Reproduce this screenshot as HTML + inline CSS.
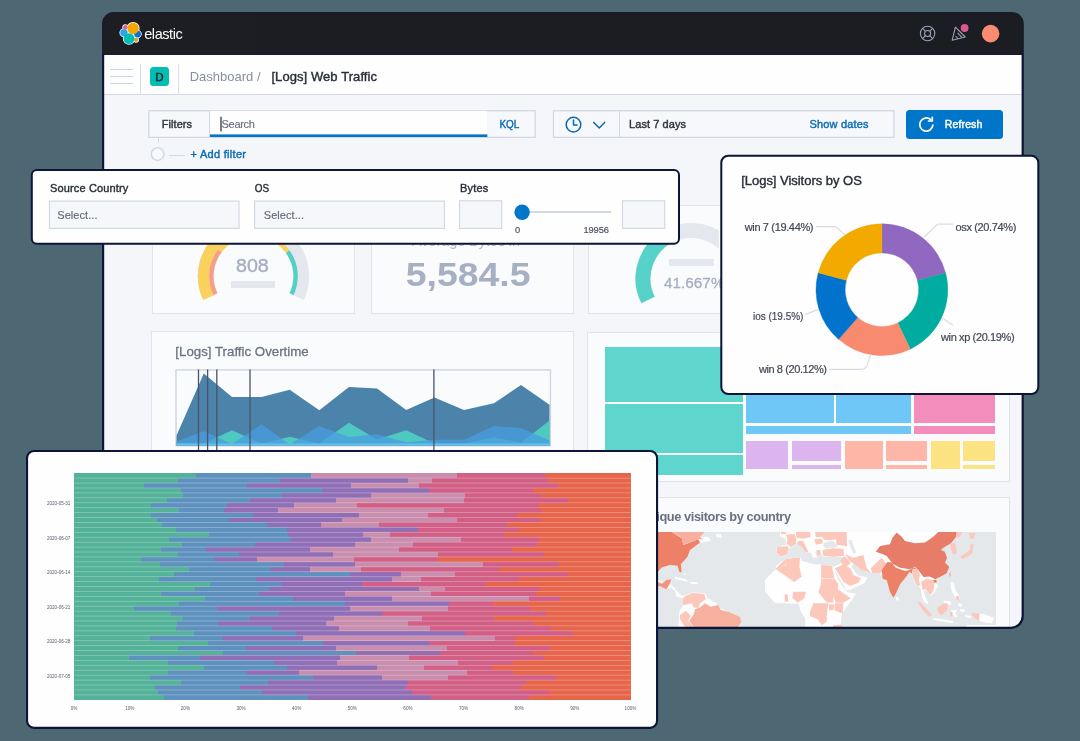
<!DOCTYPE html>
<html><head><meta charset="utf-8"><title>Kibana dashboard</title>
<style>
html,body{margin:0;padding:0;}
body{width:1080px;height:741px;overflow:hidden;background:#4d6872;font-family:"Liberation Sans",sans-serif;position:relative;}
.t{position:absolute;white-space:nowrap;display:block;}
.b{position:absolute;box-sizing:border-box;}
svg{position:absolute;left:0;top:0;overflow:visible;pointer-events:none;}
text{font-family:"Liberation Sans",sans-serif;white-space:pre;}
.win{position:absolute;left:103px;top:13px;width:920px;height:615px;border-radius:12px;overflow:hidden;background:#f5f7fa;}
.off{position:absolute;left:-103px;top:-13px;width:1080px;height:741px;}
.card{position:absolute;box-sizing:border-box;border:2px solid #0d1539;background:#fff;overflow:hidden;}
.cin{position:absolute;width:1080px;height:741px;}
</style></head><body><div id="root" style="position:absolute;left:0;top:0;width:1080px;height:741px;will-change:transform;opacity:0.9999;">
<div class="win"><div class="off">
<div class="b" style="left:102.0px;top:12.0px;width:922.0px;height:42.5px;background:#1d1e24;"></div>
<div class="b" style="left:102.0px;top:53.6px;width:922.0px;height:1.2px;background:#141a3b;"></div>
<svg width="1080" height="741" viewBox="0 0 1080 741">
<g stroke="#fff" stroke-width="1.6">
<circle cx="133.1" cy="28.4" r="5.7" fill="#f5a800"/><circle cx="129" cy="38.6" r="5.4" fill="#00bfb3"/>
<circle cx="123.9" cy="32.8" r="3.7" fill="#1ba9f5"/><circle cx="137.6" cy="34.1" r="3.4" fill="#0b72d6"/>
<circle cx="125.3" cy="27.2" r="2.2" fill="#f04e98"/><circle cx="136.1" cy="39.8" r="2.1" fill="#d0a836"/></g>
<g stroke="none">
<circle cx="123.9" cy="32.8" r="3.7" fill="#2aa6e6"/><circle cx="125.3" cy="27.2" r="2.2" fill="#e85a9b"/>
<circle cx="137.6" cy="34.1" r="3.4" fill="#0b72d6"/><circle cx="136.1" cy="39.8" r="2.1" fill="#d0a836"/>
<circle cx="133.1" cy="28.4" r="5.7" fill="#f5a800"/><circle cx="129" cy="38.6" r="5.4" fill="#00bfb3"/>
</g>
<!-- help icon -->
<g fill="none" stroke="#98a2b3" stroke-width="1.1">
<circle cx="927.6" cy="33.5" r="7.2"/><circle cx="927.6" cy="33.5" r="3"/>
<path d="M922.5 28.4l3 3M932.7 28.4l-3 3M922.5 38.6l3-3M932.7 38.6l-3-3"/>
<path d="M955.4 27.2L965.2 37 952.2 40.2Z" stroke-linejoin="round"/>
<path d="M957.6 32.8l4.2 4.6M955.6 36.2l2.6 2.6"/>
</g>
<circle cx="964.6" cy="28" r="3.9" fill="#dd5a8f"/>
<circle cx="990.6" cy="33.6" r="8.8" fill="#fb8e72"/>
</svg>
<svg width="1080" height="741" viewBox="0 0 1080 741"><text x="144.20" y="38.89" font-size="14.5" fill="#ffffff" textLength="38.50" lengthAdjust="spacing" >elastic</text></svg>
<div class="b" style="left:102.0px;top:54.8px;width:922.0px;height:39.2px;background:#fff;"></div>
<div class="b" style="left:102.0px;top:94.0px;width:922.0px;height:1.2px;background:#d3dae6;"></div>
<div class="b" style="left:110.0px;top:68.8px;width:22.6px;height:1.2px;background:#cfd6e3;"></div>
<div class="b" style="left:110.0px;top:75.9px;width:22.6px;height:1.2px;background:#cfd6e3;"></div>
<div class="b" style="left:110.0px;top:83.1px;width:22.6px;height:1.2px;background:#cfd6e3;"></div>
<div class="b" style="left:139.6px;top:64.0px;width:1.2px;height:30.0px;background:#d9dfea;"></div>
<div class="b" style="left:178.0px;top:64.0px;width:1.2px;height:30.0px;background:#d9dfea;"></div>
<div class="b" style="left:149.6px;top:66.6px;width:19.4px;height:19.4px;background:#00bfb3;border-radius:3.5px;"></div>
<svg width="1080" height="741" viewBox="0 0 1080 741"><text x="155.30" y="80.52" font-size="11.5" fill="#1f2430" stroke="#1f2430" stroke-width="0.5" >D</text></svg>
<svg width="1080" height="741" viewBox="0 0 1080 741"><text x="189.70" y="80.95" font-size="13" fill="#8a90a0" textLength="70.90" lengthAdjust="spacing" >Dashboard /</text></svg>
<svg width="1080" height="741" viewBox="0 0 1080 741"><text x="271.40" y="80.95" font-size="13" fill="#2b2f3a" stroke="#2b2f3a" stroke-width="0.4" textLength="105.60" lengthAdjust="spacing" >[Logs] Web Traffic</text></svg>
<svg width="1080" height="741" viewBox="0 0 1080 741"><rect x="148.85" y="110.75" width="386.30" height="26.60" fill="#f7f9fc" stroke="#d3dae6" stroke-width="1.3"/></svg>
<div class="b" style="left:209.4px;top:111.4px;width:278.0px;height:23.6px;background:#fff;"></div>
<svg width="1080" height="741" viewBox="0 0 1080 741"><rect x="209.4" y="134.4" width="278" height="2.6" fill="#0077cc"/></svg>
<div class="b" style="left:208.8px;top:111.0px;width:1.2px;height:26.4px;background:#d3dae6;"></div>
<svg width="1080" height="741" viewBox="0 0 1080 741"><rect x="220.4" y="116.8" width="1.2" height="14.6" fill="#22252e"/></svg>
<svg width="1080" height="741" viewBox="0 0 1080 741"><text x="161.70" y="128.14" font-size="11" fill="#2f333d" stroke="#2f333d" stroke-width="0.4" textLength="30.40" lengthAdjust="spacing" >Filters</text></svg>
<svg width="1080" height="741" viewBox="0 0 1080 741"><text x="221.60" y="128.14" font-size="11" fill="#69707d" stroke="#69707d" stroke-width="0.15" textLength="33.20" lengthAdjust="spacing" >Search</text></svg>
<svg width="1080" height="741" viewBox="0 0 1080 741"><text x="499.40" y="128.14" font-size="11" fill="#0a6bb8" stroke="#0a6bb8" stroke-width="0.4" textLength="19.90" lengthAdjust="spacingAndGlyphs" >KQL</text></svg>
<div class="b" style="left:157.6px;top:138.0px;width:1.2px;height:5.0px;background:#d3dae6;"></div>
<svg width="1080" height="741" viewBox="0 0 1080 741"><circle cx="157.6" cy="154.1" r="6.3" fill="#fafbfd" stroke="#d3dae6" stroke-width="1.5"/></svg>
<div class="b" style="left:169.0px;top:154.5px;width:16.0px;height:1.2px;background:#d3dae6;"></div>
<svg width="1080" height="741" viewBox="0 0 1080 741"><text x="190.40" y="158.24" font-size="11" fill="#0a6bb8" stroke="#0a6bb8" stroke-width="0.4" textLength="55.60" lengthAdjust="spacing" >+ Add filter</text></svg>
<svg width="1080" height="741" viewBox="0 0 1080 741"><rect x="553.45" y="110.75" width="340.50" height="26.60" fill="#f7f9fc" stroke="#d3dae6" stroke-width="1.3"/></svg>
<div class="b" style="left:619.0px;top:110.2px;width:1.2px;height:28.0px;background:#d3dae6;"></div>
<svg width="1080" height="741" viewBox="0 0 1080 741"><g fill="none" stroke="#0a6bb8" stroke-width="1.5" stroke-linecap="round" stroke-linejoin="round">
<circle cx="573.5" cy="124.6" r="7.3"/><path d="M573.5 120v5h3.6"/><path d="M593.8 122.4l5.4 5.6 5.4-5.6"/></g>
</svg>
<svg width="1080" height="741" viewBox="0 0 1080 741"><text x="629.00" y="128.14" font-size="11" fill="#2f333d" stroke="#2f333d" stroke-width="0.4" textLength="57.00" lengthAdjust="spacing" >Last 7 days</text></svg>
<svg width="1080" height="741" viewBox="0 0 1080 741"><text x="809.40" y="128.14" font-size="11" fill="#0a6bb8" stroke="#0a6bb8" stroke-width="0.4" textLength="59.20" lengthAdjust="spacing" >Show dates</text></svg>
<div class="b" style="left:906.4px;top:109.8px;width:97.0px;height:29.2px;background:#0077cc;border-radius:3.5px;"></div>
<svg width="1080" height="741" viewBox="0 0 1080 741"><g fill="none" stroke="#fff" stroke-width="1.7" stroke-linecap="round" stroke-linejoin="round"><path d="M930.6 119.5A6.6 6.6 0 1 0 932.9 125.2"/><path d="M928.5 121H932.3V117.3"/></g></svg>
<svg width="1080" height="741" viewBox="0 0 1080 741"><text x="944.80" y="127.96" font-size="10.5" fill="#ffffff" stroke="#ffffff" stroke-width="0.45" textLength="37.50" lengthAdjust="spacing" >Refresh</text></svg>
<div class="b" style="left:152.0px;top:205.0px;width:203.4px;height:108.6px;background:#fbfcfd;border:1px solid #e1e5ec;"></div>
<div class="b" style="left:371.4px;top:205.0px;width:202.4px;height:108.6px;background:#fbfcfd;border:1px solid #e1e5ec;"></div>
<div class="b" style="left:588.0px;top:205.0px;width:421.6px;height:108.6px;background:#fbfcfd;border:1px solid #e1e5ec;"></div>
<div class="b" style="left:150.8px;top:331.4px;width:422.8px;height:150.6px;background:#fbfcfd;border:1px solid #e1e5ec;"></div>
<div class="b" style="left:587.4px;top:331.8px;width:422.2px;height:150.2px;background:#fbfcfd;border:1px solid #e1e5ec;"></div>
<div class="b" style="left:150.8px;top:496.6px;width:422.8px;height:143.4px;background:#fbfcfd;border:1px solid #e1e5ec;"></div>
<div class="b" style="left:587.4px;top:496.6px;width:422.2px;height:143.4px;background:#fbfcfd;border:1px solid #e1e5ec;"></div>
<svg width="1080" height="741" viewBox="0 0 1080 741"><defs><clipPath id="g2c"><rect x="588" y="205" width="130.8" height="110"/></clipPath></defs><path d="M208.38 297.63A49.95 49.95 0 1 1 298.62 297.63" fill="none" stroke="#e5e8ee" stroke-width="11.5"/><path d="M208.38 297.63A49.95 49.95 0 0 1 283.51 236.27" fill="none" stroke="#fcd25e" stroke-width="11.5"/><path d="M215.47 294.26A42.1 42.1 0 0 1 220.14 250.51" fill="none" stroke="#f5a08b" stroke-width="4.500000000000003"/><path d="M220.14 250.51A42.1 42.1 0 0 1 287.69 251.63" fill="none" stroke="#fcd25e" stroke-width="4.500000000000003"/><path d="M287.69 251.63A42.1 42.1 0 0 1 291.53 294.26" fill="none" stroke="#55d1c7" stroke-width="4.500000000000003"/><g clip-path="url(#g2c)"><path d="M648.03 300.03A48.15 48.15 0 1 1 734.37 300.03" fill="none" stroke="#e5e8ee" stroke-width="14.9"/><path d="M648.03 300.03A48.15 48.15 0 0 1 675.22 233.28" fill="none" stroke="#57d3c9" stroke-width="14.9"/></g></svg>
<svg width="1080" height="741" viewBox="0 0 1080 741"><text x="236.00" y="272.29" font-size="18" fill="#a7afc1" stroke="#a7afc1" stroke-width="0.35" textLength="32.80" lengthAdjust="spacingAndGlyphs" >808</text></svg>
<div class="b" style="left:230.9px;top:281.0px;width:44.3px;height:6.8px;background:#e5e8ee;"></div>
<div class="b" style="left:668.6px;top:259.4px;width:45.2px;height:6.6px;background:#e5e8ee;"></div>
<svg width="1080" height="741" viewBox="0 0 1080 741"><text x="664.10" y="288.31" font-size="14" fill="#a7afc1" stroke="#a7afc1" stroke-width="0.3" textLength="60.40" lengthAdjust="spacingAndGlyphs" >41.667%</text></svg>
<svg width="1080" height="741" viewBox="0 0 1080 741"><text x="412.00" y="246.19" font-size="14.5" fill="#b3b9c7" textLength="108.00" lengthAdjust="spacing" >Average Bytes in</text></svg>
<svg width="1080" height="741" viewBox="0 0 1080 741"><text x="405.70" y="286.31" font-size="33" fill="#a8b0c3" font-weight="bold" textLength="124.90" lengthAdjust="spacingAndGlyphs" >5,584.5</text></svg>
<svg width="1080" height="741" viewBox="0 0 1080 741"><text x="175.30" y="356.46" font-size="13.3" fill="#6d7486" stroke="#6d7486" stroke-width="0.3" textLength="133.40" lengthAdjust="spacing" >[Logs] Traffic Overtime</text></svg>
<svg width="1080" height="741" viewBox="0 0 1080 741"><rect x="176" y="369.9" width="374.4" height="75.9" fill="#fbfcfd" stroke="#cfd5e3" stroke-width="1.4"/></svg>
<svg width="1080" height="741" viewBox="0 0 1080 741"><polygon points="176.5,435.5 203.8,373.4 232.0,397.0 261.6,397.0 289.7,389.8 319.3,410.3 349.0,387.0 377.0,388.4 406.2,410.0 434.4,397.5 464.0,410.0 494.0,403.3 521.0,385.0 549.5,404.7 549.5,445.4 176.5,445.4" fill="#4c84ab" opacity="1"/><polygon points="176.5,443.0 203.8,443.5 232.0,430.2 261.6,443.5 289.7,436.7 319.3,443.5 349.0,422.8 377.0,439.4 406.2,430.2 434.4,443.5 464.0,443.5 494.0,437.2 521.0,442.8 549.5,420.6 549.5,445.4 176.5,445.4" fill="#4fcac3" opacity="1"/><polygon points="176.5,441.5 203.8,431.1 232.0,444.0 261.6,424.3 289.7,444.5 319.3,426.1 349.0,437.0 377.0,434.3 406.2,442.2 434.4,439.8 464.0,439.8 494.0,426.1 521.0,428.0 549.5,440.4 549.5,445.4 176.5,445.4" fill="#499ee1" opacity="0.74"/><polygon points="176.5,443.6 203.8,443.6 232.0,443.6 261.6,443.6 289.7,443.6 319.3,443.6 349.0,443.6 377.0,443.6 406.2,443.6 434.4,443.6 464.0,443.6 494.0,443.6 521.0,443.6 549.5,443.6 549.5,445.4 176.5,445.4" fill="#6fc0e6" opacity="0.9"/><rect x="197.85" y="369.4" width="1.3" height="90" fill="#4d536b"/><rect x="206.95" y="369.4" width="1.3" height="90" fill="#4d536b"/><rect x="216.15" y="369.4" width="1.3" height="90" fill="#4d536b"/><rect x="249.35" y="369.4" width="1.3" height="90" fill="#4d536b"/><rect x="433.25" y="369.4" width="1.3" height="90" fill="#4d536b"/></svg>
<div class="b" style="left:604.7px;top:346.8px;width:138.0px;height:55.4px;background:#5fd7cf;"></div>
<div class="b" style="left:604.7px;top:404.0px;width:138.0px;height:48.8px;background:#5fd7cf;"></div>
<div class="b" style="left:604.7px;top:454.6px;width:138.0px;height:20.8px;background:#5fd7cf;"></div>
<div class="b" style="left:746.1px;top:350.0px;width:87.9px;height:73.0px;background:#6fc8f8;"></div>
<div class="b" style="left:835.6px;top:350.0px;width:75.4px;height:73.0px;background:#6fc8f8;"></div>
<div class="b" style="left:746.1px;top:426.0px;width:164.9px;height:7.7px;background:#6fc8f8;"></div>
<div class="b" style="left:913.9px;top:350.0px;width:80.9px;height:73.0px;background:#f48ebc;"></div>
<div class="b" style="left:913.9px;top:426.0px;width:80.9px;height:7.7px;background:#f48ebc;"></div>
<div class="b" style="left:746.1px;top:441.0px;width:42.2px;height:28.0px;background:#ddb6f0;"></div>
<div class="b" style="left:792.0px;top:441.0px;width:48.6px;height:20.4px;background:#ddb6f0;"></div>
<div class="b" style="left:792.0px;top:464.8px;width:48.6px;height:4.2px;background:#ddb6f0;"></div>
<div class="b" style="left:844.5px;top:441.0px;width:38.3px;height:28.0px;background:#ffb8a8;"></div>
<div class="b" style="left:886.2px;top:441.0px;width:40.5px;height:20.4px;background:#ffb8a8;"></div>
<div class="b" style="left:886.2px;top:464.8px;width:40.5px;height:4.2px;background:#ffb8a8;"></div>
<div class="b" style="left:931.0px;top:441.0px;width:29.0px;height:28.0px;background:#fee383;"></div>
<div class="b" style="left:963.3px;top:441.0px;width:31.5px;height:20.4px;background:#fee383;"></div>
<div class="b" style="left:963.3px;top:464.8px;width:31.5px;height:4.2px;background:#fee383;"></div>
<svg width="1080" height="741" viewBox="0 0 1080 741"><text x="656.30" y="520.58" font-size="12.8" fill="#6b7283" font-weight="bold" textLength="134.70" lengthAdjust="spacing" >ique visitors by country</text></svg>
<div class="b" style="left:604.7px;top:532.0px;width:391.5px;height:108.0px;background:#e6e9eb;"></div>
<svg width="1080" height="741" viewBox="0 0 1080 741"><defs><clipPath id="mc"><rect x="604.7" y="532" width="391.5" height="110"/></clipPath></defs><g clip-path="url(#mc)" stroke-linejoin="round">
<polygon points="600.0,532.0 705.0,532.0 700.0,536.7 707.5,538.3 705.0,541.7 698.3,543.3 690.0,550.0 687.5,556.7 680.8,564.2 681.7,572.5 679.2,571.7 677.5,565.8 670.0,565.0 661.7,567.5 656.7,573.3 658.3,580.0 665.8,582.5 671.7,579.2 670.0,583.3 666.7,589.2 660.0,586.7 656.7,583.3 600.0,575.0" fill="#ffffff" />
<polygon points="600.0,532.0 671.7,532.0 681.7,538.3 683.3,545.0 698.3,539.2 700.0,542.5 690.0,550.0 687.5,556.7 680.8,564.2 681.7,572.5 679.2,571.7 677.5,565.8 670.0,565.0 661.7,567.5 656.7,573.3 600.0,573.3" fill="#ef8168" />
<polygon points="671.7,532.0 705.0,532.0 700.0,536.7 703.3,539.2 698.3,539.2 683.3,545.0 681.7,538.3" fill="#f9b19f" />
<polygon points="703.3,536.7 708.3,536.7 710.8,540.8 705.8,541.7" fill="#ffffff" />
<polygon points="715.8,534.2 720.8,534.2 721.7,537.5 716.7,537.5" fill="#ffffff" />
<polygon points="600.0,573.3 656.7,573.3 657.5,581.7 661.7,583.7 666.7,580.0 671.3,579.2 670.0,583.3 666.7,589.2 664.2,588.3 660.0,586.3 600.0,580.0" fill="#f4957f" />
<polygon points="666.7,589.2 670.8,587.5 675.0,590.8 676.7,596.7 683.3,598.3 685.0,595.8 680.8,595.0 676.7,590.8 673.3,587.0 670.0,583.7" fill="#ffffff" />
<polygon points="675.0,576.7 685.8,579.2 689.2,582.5 683.3,580.8 675.0,578.7" fill="#ffffff" />
<polygon points="690.0,581.7 698.3,582.5 697.5,584.2 690.8,583.7" fill="#ffffff" />
<polygon points="683.3,572.0 685.8,575.0 684.2,575.0" fill="#ffffff" />
<polygon points="684.2,595.8 691.7,592.5 705.0,593.3 707.5,598.3 716.7,603.3 720.0,608.3 728.3,611.7 740.0,616.7 741.3,622.5 736.7,628.3 678.3,628.3 679.2,611.7 683.3,605.0 682.5,600.0" fill="#ffffff" />
<polygon points="684.2,596.7 691.7,593.0 704.2,593.7 705.8,599.2 700.0,603.3 698.3,608.3 693.7,607.5 691.7,603.3 687.5,604.2 683.3,605.0 682.5,600.3" fill="#fcc9bc" />
<polygon points="680.0,615.0 685.8,610.8 690.8,615.8 688.3,620.8 695.0,628.3 685.8,628.3 680.0,619.2" fill="#fcc9bc" />
<polygon points="689.2,620.8 693.7,614.2 695.0,609.2 700.0,607.5 705.0,603.3 710.8,606.7 718.3,605.0 720.8,610.0 728.3,611.7 740.0,616.7 741.3,622.5 736.7,628.3 695.0,628.3" fill="#f9b19f" />
<polygon points="780.0,532.0 957.0,532.0 956.0,537.0 951.0,543.3 943.3,547.7 941.0,550.0 945.0,551.7 947.0,558.3 945.0,562.7 949.3,566.7 946.7,573.3 940.0,577.0 935.0,579.3 930.0,576.7 923.3,577.0 918.3,570.3 915.0,566.7 910.0,568.3 905.0,572.5 895.0,566.7 891.7,562.0 886.7,562.5 880.0,570.0 883.3,575.0 880.0,574.2 870.8,572.5 866.7,568.3 860.0,568.7 853.3,564.2 850.8,566.7 846.7,560.8 843.3,556.7 823.3,556.7 818.3,550.0 815.0,551.7 817.5,558.3 813.3,557.5 810.0,551.7 808.3,553.3 803.3,546.7 797.5,541.7 795.8,544.2 790.8,547.5 788.3,547.5 787.5,554.7 780.0,557.0 776.3,552.5 776.7,546.7 786.7,544.7 785.0,538.3 780.0,536.7" fill="#ffffff" />
<polygon points="824.2,542.5 831.7,540.8 838.3,544.7 835.8,547.5 825.8,548.3 823.0,545.8" fill="#e6e9eb" />
<polygon points="848.0,540.8 852.0,539.7 853.3,545.0 856.3,552.5 853.3,553.7 850.8,548.3" fill="#e6e9eb" />
<polygon points="776.7,565.0 785.0,559.2 800.0,557.0 801.7,560.8 813.3,564.2 820.8,564.7 831.7,565.5 833.3,566.7 843.3,562.5 850.0,563.3 853.3,566.7 860.0,575.0 867.5,578.0 864.2,583.3 850.8,589.2 846.7,591.7 855.8,593.7 853.3,598.3 846.7,606.7 841.7,615.0 840.3,628.3 805.3,628.3 805.0,618.3 800.8,611.7 798.7,603.7 775.0,603.0 765.0,591.7 765.0,580.0 774.2,570.8" fill="#ffffff" />
<polygon points="831.7,566.0 833.7,566.7 838.3,580.0 843.3,587.5 847.5,592.0 855.8,593.3 860.0,590.3 853.3,590.8 846.7,590.3 841.7,582.5 837.0,573.3" fill="#e6e9eb" />
<polygon points="851.3,566.7 853.3,565.0 860.0,573.3 864.2,575.0 862.5,576.7 857.5,575.0" fill="#e6e9eb" />
<polygon points="777.0,546.7 788.3,546.3 787.5,554.3 780.3,556.7 776.7,552.5" fill="#fcc9bc" />
<polygon points="785.8,534.7 794.2,533.7 796.3,538.3 795.8,543.7 790.8,547.0 786.7,543.7 787.5,539.2" fill="#fcc9bc" />
<polygon points="780.8,532.0 786.7,532.0 786.3,533.7 781.3,534.2" fill="#fcc9bc" />
<polygon points="795.8,532.0 810.0,532.0 810.8,536.7 803.3,538.7 796.3,537.5" fill="#fcc9bc" />
<polygon points="797.5,541.3 803.3,541.0 805.8,546.7 808.7,552.5 805.3,551.7 801.7,546.7 798.7,545.0" fill="#fcc9bc" />
<polygon points="814.2,539.2 822.0,538.7 823.0,543.3 815.8,544.7" fill="#fcc9bc" />
<polygon points="815.0,532.0 846.7,532.0 847.0,546.3 837.0,544.7 835.8,539.2 830.0,540.3 824.2,540.0 822.0,536.7 815.8,537.0" fill="#fcc9bc" />
<polygon points="822.5,550.0 833.3,548.3 843.3,548.7 844.2,555.8 833.3,556.7 823.3,556.0" fill="#fcc9bc" />
<polygon points="816.7,550.0 820.3,550.0 820.3,554.7 817.5,555.8" fill="#fcc9bc" />
<polygon points="774.7,569.7 785.0,559.2 786.7,563.7 777.5,569.7" fill="#fcc9bc" />
<polygon points="785.3,559.2 800.0,557.3 799.3,566.7 801.7,576.7 794.2,582.0 777.0,570.0 786.7,564.3" fill="#fcc9bc" />
<polygon points="821.2,565.0 831.7,565.8 834.5,578.3 821.2,578.3" fill="#fcc9bc" />
<polygon points="821.2,578.8 834.5,578.8 838.3,583.7 837.5,591.3 833.3,598.0 833.3,602.5 826.7,602.5 818.3,592.0 821.0,583.7" fill="#fcc9bc" />
<polygon points="837.7,589.2 850.8,598.3 843.3,602.7 835.8,602.7 833.7,597.7" fill="#fcc9bc" />
<polygon points="793.3,591.7 806.0,591.7 804.3,598.3 797.7,602.7 792.3,597.7" fill="#fcc9bc" />
<polygon points="784.7,594.2 787.7,594.2 788.3,601.7 784.7,601.7" fill="#fcc9bc" />
<polygon points="813.3,603.3 828.3,603.3 827.0,611.7 826.7,621.7 822.0,625.3 817.5,619.3 809.7,616.0 810.0,611.7" fill="#fcc9bc" />
<polygon points="828.7,604.3 834.3,604.3 833.3,610.3 829.3,610.3" fill="#fcc9bc" />
<polygon points="835.0,603.3 843.3,603.3 842.7,613.7 834.3,610.3" fill="#fcc9bc" />
<polygon points="833.3,625.0 842.0,624.7 841.7,629.2 833.3,629.2" fill="#fcc9bc" />
<polygon points="835.0,568.3 843.3,564.3 850.8,568.7 853.3,575.0 861.0,578.3 858.3,582.7 850.0,586.0 843.3,581.7" fill="#fcc9bc" />
<polygon points="840.0,560.8 845.0,556.0 850.8,563.0 845.3,567.7" fill="#fcc9bc" />
<polygon points="845.3,554.2 853.3,557.7 863.3,555.0 866.7,568.0 870.3,572.0 861.7,570.0 853.7,564.3 849.2,560.3" fill="#fcc9bc" />
<polygon points="870.8,568.3 876.7,562.5 881.7,557.7 886.0,563.3 883.0,568.7 880.3,573.7 872.0,572.7" fill="#fcc9bc" />
<polygon points="875.8,551.7 880.0,546.0 890.0,544.3 892.5,537.7 896.7,532.5 901.7,536.7 905.0,541.0 915.0,543.3 925.0,542.5 933.3,536.7 938.3,532.0 957.0,532.0 956.0,537.0 951.0,543.3 943.3,547.7 941.0,550.0 945.0,551.7 947.0,558.3 945.0,562.7 949.3,566.7 946.7,573.3 940.0,577.0 935.0,579.3 930.0,576.7 923.3,577.0 918.3,570.3 915.0,566.7 910.0,569.3 900.0,567.7 892.7,563.7 886.7,556.0 881.7,553.7" fill="#e87d69" />
<polygon points="881.7,570.0 887.5,562.0 891.7,562.5 895.8,567.7 905.0,571.0 910.0,570.0 913.3,567.5 916.3,568.7 913.0,573.7 909.3,572.0 906.0,577.0 900.0,584.3 895.8,593.7 893.3,597.7 890.0,591.7 886.7,580.0 882.7,578.7" fill="#ef8168" />
<polygon points="895.8,596.7 898.3,597.0 898.7,600.8 896.3,600.3" fill="#ffffff" />
<polygon points="913.0,568.7 918.3,570.3 923.3,577.0 930.0,576.7 935.0,579.3 934.2,582.5 938.3,585.0 935.0,591.7 930.8,595.8 926.7,590.3 923.3,590.8 925.8,598.3 928.3,603.3 925.8,603.3 922.0,596.7 920.3,586.7 917.5,586.0 913.3,578.7 911.7,573.7" fill="#ffffff" />
<polygon points="913.3,569.3 917.5,568.7 920.0,575.0 918.7,580.0 920.3,585.0 917.7,586.0 913.7,578.7 912.0,573.7" fill="#fcc9bc" />
<polygon points="921.0,581.7 926.7,578.7 933.0,580.0 934.7,583.7 933.3,591.3 930.0,595.0 926.0,589.3 922.7,590.0" fill="#fcc9bc" />
<polygon points="950.0,543.7 955.3,543.0 957.0,552.7 953.3,554.7 951.3,550.0" fill="#fcc9bc" />
<polygon points="960.0,556.7 966.7,552.5 970.0,550.0 970.8,543.3 973.7,545.0 972.0,553.7 966.7,556.7 962.7,559.3" fill="#fcc9bc" />
<polygon points="969.2,533.3 975.3,533.0 973.7,538.7 970.0,538.7" fill="#fcc9bc" />
<polygon points="956.3,532.0 962.0,532.0 960.0,537.0 956.7,537.5" fill="#fcc9bc" />
<polygon points="949.0,573.0 950.8,572.5 950.7,576.7 949.2,576.3" fill="#f9b19f" />
<polygon points="950.5,582.5 953.3,582.5 955.8,590.8 959.7,596.7 957.5,600.8 954.7,596.7 951.3,590.0" fill="#ffffff" />
<polygon points="955.8,595.8 959.3,596.3 958.3,600.8 956.3,599.7" fill="#fcc9bc" />
<polygon points="917.5,601.7 921.0,602.7 932.0,615.0 929.3,617.0 922.0,609.2" fill="#fcc9bc" />
<polygon points="937.3,607.7 946.7,601.3 948.0,603.3 947.3,610.3 941.7,615.3 938.0,612.5" fill="#fcc9bc" />
<polygon points="946.7,601.3 951.3,602.0 950.0,605.0 947.7,604.3" fill="#ffffff" />
<polygon points="932.7,618.0 943.3,619.3 953.3,621.3 952.7,623.0 943.0,621.7 933.0,619.7" fill="#ffffff" />
<polygon points="950.8,610.0 957.0,609.7 955.3,613.3 957.5,617.0 954.7,617.0 952.7,613.3" fill="#ffffff" />
<polygon points="950.0,611.7 952.7,612.3 952.0,616.3 950.0,615.8" fill="#fcc9bc" />
<polygon points="960.0,609.2 965.0,609.2 964.7,611.7 960.3,611.7" fill="#ffffff" />
<polygon points="971.7,613.0 979.7,613.3 979.3,620.8 975.0,618.3 972.0,615.8" fill="#fcc9bc" />
<polygon points="979.7,613.3 986.7,615.0 994.2,618.3 991.7,623.3 985.0,622.5 979.3,620.8" fill="#ffffff" />
<polygon points="966.7,625.0 995.8,625.0 995.8,629.2 966.7,629.2" fill="#ffffff" />
<polygon points="933.3,580.0 936.3,579.7 936.7,582.3 934.0,582.7" fill="#e87d69" />
<polygon points="922.0,596.7 925.3,597.7 928.7,603.3 926.3,604.0 923.3,600.3" fill="#ffffff" />
<polygon points="943.3,600.3 951.3,601.7 950.0,605.3 947.0,603.3 944.2,603.3" fill="#ffffff" />
<polygon points="958.3,603.3 962.0,604.0 961.0,607.0 958.7,606.3" fill="#ffffff" />
<polygon points="965.0,615.0 971.3,616.0 970.7,618.0 965.3,617.0" fill="#ffffff" />
</g></svg>
</div></div>
<svg width="1080" height="741" viewBox="0 0 1080 741"><defs><clipPath id="fa"><rect x="0" y="0" width="1080" height="53.8"/></clipPath><clipPath id="fb"><rect x="0" y="53.8" width="1080" height="700"/></clipPath></defs><rect x="103.1" y="13.1" width="919.6" height="614.7" rx="10.6" fill="none" stroke="#1b1d26" stroke-width="2.2" clip-path="url(#fa)"/><rect x="103.1" y="13.1" width="919.6" height="614.7" rx="11.7" fill="none" stroke="#0d1539" stroke-width="2.2" clip-path="url(#fb)"/></svg>
<svg width="1080" height="741" viewBox="0 0 1080 741"><rect x="31.80" y="169.90" width="647.20" height="73.90" rx="5" fill="#fff" stroke="#0d1539" stroke-width="2.0"/></svg><div class="cin" style="left:0;top:0;"><svg width="1080" height="741" viewBox="0 0 1080 741"><text x="50.00" y="191.69" font-size="11" fill="#2b2f3a" stroke="#2b2f3a" stroke-width="0.4" textLength="78.30" lengthAdjust="spacing" >Source Country</text></svg><svg width="1080" height="741" viewBox="0 0 1080 741"><text x="254.70" y="191.69" font-size="11" fill="#2b2f3a" stroke="#2b2f3a" stroke-width="0.4" textLength="14.30" lengthAdjust="spacingAndGlyphs" >OS</text></svg><svg width="1080" height="741" viewBox="0 0 1080 741"><text x="460.00" y="191.69" font-size="11" fill="#2b2f3a" stroke="#2b2f3a" stroke-width="0.4" textLength="28.30" lengthAdjust="spacing" >Bytes</text></svg><svg width="1080" height="741" viewBox="0 0 1080 741"><rect x="49.5" y="201.1" width="189.5" height="27.3" fill="#f7f8fb" stroke="#d3dae6" stroke-width="1.2"/></svg><svg width="1080" height="741" viewBox="0 0 1080 741"><rect x="254.6" y="201.1" width="189.8" height="27.3" fill="#f7f8fb" stroke="#d3dae6" stroke-width="1.2"/></svg><svg width="1080" height="741" viewBox="0 0 1080 741"><rect x="459.6" y="200.79999999999998" width="42.1" height="27.6" fill="#f7f8fb" stroke="#d3dae6" stroke-width="1.2"/></svg><svg width="1080" height="741" viewBox="0 0 1080 741"><rect x="622.5" y="200.79999999999998" width="42.2" height="27.6" fill="#f7f8fb" stroke="#d3dae6" stroke-width="1.2"/></svg><svg width="1080" height="741" viewBox="0 0 1080 741"><text x="57.30" y="219.14" font-size="11" fill="#646b7a" stroke="#646b7a" stroke-width="0.15" textLength="40.20" lengthAdjust="spacing" >Select...</text></svg><svg width="1080" height="741" viewBox="0 0 1080 741"><text x="263.80" y="219.14" font-size="11" fill="#646b7a" stroke="#646b7a" stroke-width="0.15" textLength="40.20" lengthAdjust="spacing" >Select...</text></svg><div class="b" style="left:522.0px;top:211.3px;width:88.6px;height:1.6px;background:#d3dae6;"></div><svg width="1080" height="741" viewBox="0 0 1080 741"><circle cx="522.1" cy="212.3" r="7.7" fill="#0077cc"/></svg><svg width="1080" height="741" viewBox="0 0 1080 741"><text x="515.00" y="232.73" font-size="9.3" fill="#4f5564" stroke="#4f5564" stroke-width="0.2" >0</text></svg><svg width="1080" height="741" viewBox="0 0 1080 741"><text x="583.40" y="232.73" font-size="9.3" fill="#4f5564" stroke="#4f5564" stroke-width="0.2" textLength="25.60" lengthAdjust="spacing" >19956</text></svg></div>
<svg width="1080" height="741" viewBox="0 0 1080 741"><rect x="721.30" y="155.70" width="317.00" height="238.30" rx="7" fill="#fff" stroke="#0d1539" stroke-width="2.0"/></svg><div class="cin" style="left:0;top:0;"><svg width="1080" height="741" viewBox="0 0 1080 741"><text x="741.20" y="184.65" font-size="13" fill="#2b2f3a" stroke="#2b2f3a" stroke-width="0.4" textLength="120.60" lengthAdjust="spacing" >[Logs] Visitors by OS</text></svg><svg width="1080" height="741" viewBox="0 0 1080 741"><path d="M881.90 223.80A65.9 65.9 0 0 1 945.67 273.09L917.51 280.42A36.8 36.8 0 0 0 881.90 252.90Z" fill="#9169c0" stroke="#9169c0" stroke-width="0.4"/><path d="M945.67 273.09A65.9 65.9 0 0 1 910.27 349.18L897.74 322.92A36.8 36.8 0 0 0 917.51 280.42Z" fill="#00ada0" stroke="#00ada0" stroke-width="0.4"/><path d="M910.27 349.18A65.9 65.9 0 0 1 838.58 339.36L857.71 317.43A36.8 36.8 0 0 0 897.74 322.92Z" fill="#f98b71" stroke="#f98b71" stroke-width="0.4"/><path d="M838.58 339.36A65.9 65.9 0 0 1 818.22 272.75L846.34 280.24A36.8 36.8 0 0 0 857.71 317.43Z" fill="#0374ce" stroke="#0374ce" stroke-width="0.4"/><path d="M818.22 272.75A65.9 65.9 0 0 1 881.90 223.80L881.90 252.90A36.8 36.8 0 0 0 846.34 280.24Z" fill="#f3ab00" stroke="#f3ab00" stroke-width="0.4"/><g fill="none" stroke="#d9dde6" stroke-width="1.2"><path d="M816 226.6H835.4L845.1 234.9"/><path d="M953 224.1H937.6L924 237.3"/><path d="M805 314.6L817.7 309.6"/><path d="M952.8 325L942 317.9"/><path d="M829 369.3H861Q866.5 369.3 867.6 364L870.4 354.9"/></g></svg><svg width="1080" height="741" viewBox="0 0 1080 741"><text x="744.70" y="230.54" font-size="11" fill="#434859" stroke="#434859" stroke-width="0.2" textLength="68.80" lengthAdjust="spacing" >win 7 (19.44%)</text></svg><svg width="1080" height="741" viewBox="0 0 1080 741"><text x="955.60" y="230.54" font-size="11" fill="#434859" stroke="#434859" stroke-width="0.2" textLength="60.70" lengthAdjust="spacing" >osx (20.74%)</text></svg><svg width="1080" height="741" viewBox="0 0 1080 741"><text x="753.00" y="320.24" font-size="11" fill="#434859" stroke="#434859" stroke-width="0.2" textLength="50.40" lengthAdjust="spacingAndGlyphs" >ios (19.5%)</text></svg><svg width="1080" height="741" viewBox="0 0 1080 741"><text x="941.00" y="341.14" font-size="11" fill="#434859" stroke="#434859" stroke-width="0.2" textLength="73.60" lengthAdjust="spacing" >win xp (20.19%)</text></svg><svg width="1080" height="741" viewBox="0 0 1080 741"><text x="758.90" y="373.24" font-size="11" fill="#434859" stroke="#434859" stroke-width="0.2" textLength="68.10" lengthAdjust="spacing" >win 8 (20.12%)</text></svg></div>
<svg width="1080" height="741" viewBox="0 0 1080 741"><rect x="27.05" y="451.05" width="630.00" height="276.80" rx="7" fill="#fff" stroke="#0d1539" stroke-width="2.1"/></svg><div class="cin" style="left:0;top:0;"><svg width="1080" height="741" viewBox="0 0 1080 741" shape-rendering="crispEdges"><rect x="74.4" y="473.20" width="121.8" height="4.93" fill="#54b399"/><rect x="196.2" y="473.20" width="114.5" height="4.93" fill="#6092c0"/><rect x="310.7" y="473.20" width="146.2" height="4.93" fill="#ca8eae"/><rect x="456.9" y="473.20" width="88.4" height="4.93" fill="#d36086"/><rect x="545.3" y="473.20" width="85.5" height="4.93" fill="#e7664c"/><rect x="74.4" y="478.13" width="103.8" height="4.93" fill="#54b399"/><rect x="178.2" y="478.13" width="102.1" height="4.93" fill="#6092c0"/><rect x="280.3" y="478.13" width="127.7" height="4.93" fill="#9170b8"/><rect x="408.0" y="478.13" width="23.8" height="4.93" fill="#ca8eae"/><rect x="431.8" y="478.13" width="117.5" height="4.93" fill="#d36086"/><rect x="549.3" y="478.13" width="81.5" height="4.93" fill="#e7664c"/><rect x="74.4" y="483.05" width="69.8" height="4.93" fill="#54b399"/><rect x="144.2" y="483.05" width="103.2" height="4.93" fill="#6092c0"/><rect x="247.4" y="483.05" width="103.1" height="4.93" fill="#9170b8"/><rect x="350.5" y="483.05" width="68.9" height="4.93" fill="#ca8eae"/><rect x="419.4" y="483.05" width="138.3" height="4.93" fill="#d36086"/><rect x="557.7" y="483.05" width="73.1" height="4.93" fill="#e7664c"/><rect x="74.4" y="487.98" width="107.0" height="4.93" fill="#54b399"/><rect x="181.4" y="487.98" width="140.6" height="4.93" fill="#6092c0"/><rect x="322.0" y="487.98" width="107.2" height="4.93" fill="#9170b8"/><rect x="429.2" y="487.98" width="103.4" height="4.93" fill="#d36086"/><rect x="532.6" y="487.98" width="98.2" height="4.93" fill="#e7664c"/><rect x="74.4" y="492.90" width="108.3" height="4.93" fill="#54b399"/><rect x="182.7" y="492.90" width="99.3" height="4.93" fill="#6092c0"/><rect x="282.0" y="492.90" width="88.6" height="4.93" fill="#9170b8"/><rect x="370.6" y="492.90" width="94.2" height="4.93" fill="#ca8eae"/><rect x="464.8" y="492.90" width="76.5" height="4.93" fill="#d36086"/><rect x="541.3" y="492.90" width="89.5" height="4.93" fill="#e7664c"/><rect x="74.4" y="497.83" width="92.5" height="4.93" fill="#54b399"/><rect x="166.9" y="497.83" width="83.4" height="4.93" fill="#6092c0"/><rect x="250.3" y="497.83" width="85.7" height="4.93" fill="#9170b8"/><rect x="336.0" y="497.83" width="127.5" height="4.93" fill="#ca8eae"/><rect x="463.5" y="497.83" width="104.8" height="4.93" fill="#d36086"/><rect x="568.3" y="497.83" width="62.5" height="4.93" fill="#e7664c"/><rect x="74.4" y="502.76" width="76.1" height="4.93" fill="#54b399"/><rect x="150.5" y="502.76" width="76.3" height="4.93" fill="#6092c0"/><rect x="226.8" y="502.76" width="67.2" height="4.93" fill="#9170b8"/><rect x="294.0" y="502.76" width="63.4" height="4.93" fill="#ca8eae"/><rect x="357.4" y="502.76" width="180.8" height="4.93" fill="#d36086"/><rect x="538.2" y="502.76" width="92.6" height="4.93" fill="#e7664c"/><rect x="74.4" y="507.68" width="104.6" height="4.93" fill="#54b399"/><rect x="179.0" y="507.68" width="44.9" height="4.93" fill="#6092c0"/><rect x="223.9" y="507.68" width="54.1" height="4.93" fill="#9170b8"/><rect x="278.0" y="507.68" width="165.7" height="4.93" fill="#ca8eae"/><rect x="443.7" y="507.68" width="97.1" height="4.93" fill="#d36086"/><rect x="540.8" y="507.68" width="90.0" height="4.93" fill="#e7664c"/><rect x="74.4" y="512.61" width="76.4" height="4.93" fill="#54b399"/><rect x="150.8" y="512.61" width="102.4" height="4.93" fill="#6092c0"/><rect x="253.2" y="512.61" width="106.0" height="4.93" fill="#9170b8"/><rect x="359.2" y="512.61" width="68.9" height="4.93" fill="#ca8eae"/><rect x="428.1" y="512.61" width="89.0" height="4.93" fill="#d36086"/><rect x="517.1" y="512.61" width="113.7" height="4.93" fill="#e7664c"/><rect x="74.4" y="517.53" width="82.7" height="4.93" fill="#54b399"/><rect x="157.1" y="517.53" width="72.0" height="4.93" fill="#6092c0"/><rect x="229.1" y="517.53" width="112.7" height="4.93" fill="#9170b8"/><rect x="341.8" y="517.53" width="115.6" height="4.93" fill="#ca8eae"/><rect x="457.4" y="517.53" width="83.2" height="4.93" fill="#d36086"/><rect x="540.6" y="517.53" width="90.2" height="4.93" fill="#e7664c"/><rect x="74.4" y="522.46" width="87.2" height="4.93" fill="#54b399"/><rect x="161.6" y="522.46" width="105.3" height="4.93" fill="#6092c0"/><rect x="266.9" y="522.46" width="53.6" height="4.93" fill="#9170b8"/><rect x="320.5" y="522.46" width="58.8" height="4.93" fill="#ca8eae"/><rect x="379.3" y="522.46" width="127.2" height="4.93" fill="#d36086"/><rect x="506.5" y="522.46" width="124.3" height="4.93" fill="#e7664c"/><rect x="74.4" y="527.39" width="101.7" height="4.93" fill="#54b399"/><rect x="176.1" y="527.39" width="111.1" height="4.93" fill="#6092c0"/><rect x="287.2" y="527.39" width="130.6" height="4.93" fill="#9170b8"/><rect x="417.8" y="527.39" width="101.1" height="4.93" fill="#d36086"/><rect x="518.9" y="527.39" width="111.9" height="4.93" fill="#e7664c"/><rect x="74.4" y="532.31" width="134.7" height="4.93" fill="#54b399"/><rect x="209.1" y="532.31" width="79.2" height="4.93" fill="#6092c0"/><rect x="288.3" y="532.31" width="74.4" height="4.93" fill="#9170b8"/><rect x="362.7" y="532.31" width="27.4" height="4.93" fill="#ca8eae"/><rect x="390.1" y="532.31" width="114.3" height="4.93" fill="#d36086"/><rect x="504.4" y="532.31" width="126.4" height="4.93" fill="#e7664c"/><rect x="74.4" y="537.24" width="94.8" height="4.93" fill="#54b399"/><rect x="169.2" y="537.24" width="122.0" height="4.93" fill="#6092c0"/><rect x="291.2" y="537.24" width="79.4" height="4.93" fill="#9170b8"/><rect x="370.6" y="537.24" width="90.8" height="4.93" fill="#ca8eae"/><rect x="461.4" y="537.24" width="77.3" height="4.93" fill="#d36086"/><rect x="538.7" y="537.24" width="92.1" height="4.93" fill="#e7664c"/><rect x="74.4" y="542.17" width="107.5" height="4.93" fill="#54b399"/><rect x="181.9" y="542.17" width="73.4" height="4.93" fill="#6092c0"/><rect x="255.3" y="542.17" width="99.5" height="4.93" fill="#9170b8"/><rect x="354.8" y="542.17" width="58.5" height="4.93" fill="#ca8eae"/><rect x="413.3" y="542.17" width="123.6" height="4.93" fill="#d36086"/><rect x="536.9" y="542.17" width="93.9" height="4.93" fill="#e7664c"/><rect x="74.4" y="547.09" width="86.9" height="4.93" fill="#54b399"/><rect x="161.3" y="547.09" width="44.6" height="4.93" fill="#6092c0"/><rect x="205.9" y="547.09" width="104.3" height="4.93" fill="#9170b8"/><rect x="310.2" y="547.09" width="89.2" height="4.93" fill="#ca8eae"/><rect x="399.4" y="547.09" width="112.1" height="4.93" fill="#d36086"/><rect x="511.5" y="547.09" width="119.3" height="4.93" fill="#e7664c"/><rect x="74.4" y="552.02" width="103.3" height="4.93" fill="#54b399"/><rect x="177.7" y="552.02" width="61.5" height="4.93" fill="#6092c0"/><rect x="239.2" y="552.02" width="94.2" height="4.93" fill="#9170b8"/><rect x="333.4" y="552.02" width="104.8" height="4.93" fill="#ca8eae"/><rect x="438.2" y="552.02" width="105.3" height="4.93" fill="#d36086"/><rect x="543.5" y="552.02" width="87.3" height="4.93" fill="#e7664c"/><rect x="74.4" y="556.94" width="66.3" height="4.93" fill="#54b399"/><rect x="140.7" y="556.94" width="74.5" height="4.93" fill="#6092c0"/><rect x="215.2" y="556.94" width="41.9" height="4.93" fill="#9170b8"/><rect x="257.1" y="556.94" width="96.6" height="4.93" fill="#ca8eae"/><rect x="353.7" y="556.94" width="83.9" height="4.93" fill="#d36086"/><rect x="437.6" y="556.94" width="193.2" height="4.93" fill="#e7664c"/><rect x="74.4" y="561.87" width="85.6" height="4.93" fill="#54b399"/><rect x="160.0" y="561.87" width="123.8" height="4.93" fill="#6092c0"/><rect x="283.8" y="561.87" width="70.7" height="4.93" fill="#9170b8"/><rect x="354.5" y="561.87" width="128.0" height="4.93" fill="#ca8eae"/><rect x="482.5" y="561.87" width="76.0" height="4.93" fill="#d36086"/><rect x="558.5" y="561.87" width="72.3" height="4.93" fill="#e7664c"/><rect x="74.4" y="566.80" width="114.9" height="4.93" fill="#54b399"/><rect x="189.3" y="566.80" width="80.5" height="4.93" fill="#6092c0"/><rect x="269.8" y="566.80" width="40.4" height="4.93" fill="#9170b8"/><rect x="310.2" y="566.80" width="50.6" height="4.93" fill="#ca8eae"/><rect x="360.8" y="566.80" width="137.8" height="4.93" fill="#d36086"/><rect x="498.6" y="566.80" width="132.2" height="4.93" fill="#e7664c"/><rect x="74.4" y="571.72" width="99.1" height="4.93" fill="#54b399"/><rect x="173.5" y="571.72" width="176.3" height="4.93" fill="#6092c0"/><rect x="349.8" y="571.72" width="51.1" height="4.93" fill="#9170b8"/><rect x="400.9" y="571.72" width="53.6" height="4.93" fill="#ca8eae"/><rect x="454.5" y="571.72" width="113.8" height="4.93" fill="#d36086"/><rect x="568.3" y="571.72" width="62.5" height="4.93" fill="#e7664c"/><rect x="74.4" y="576.65" width="84.8" height="4.93" fill="#54b399"/><rect x="159.2" y="576.65" width="96.6" height="4.93" fill="#6092c0"/><rect x="255.8" y="576.65" width="135.9" height="4.93" fill="#9170b8"/><rect x="391.7" y="576.65" width="29.6" height="4.93" fill="#ca8eae"/><rect x="421.3" y="576.65" width="97.9" height="4.93" fill="#d36086"/><rect x="519.2" y="576.65" width="111.6" height="4.93" fill="#e7664c"/><rect x="74.4" y="581.57" width="136.0" height="4.93" fill="#54b399"/><rect x="210.4" y="581.57" width="70.2" height="4.93" fill="#6092c0"/><rect x="280.6" y="581.57" width="81.0" height="4.93" fill="#9170b8"/><rect x="361.6" y="581.57" width="124.1" height="4.93" fill="#d36086"/><rect x="485.7" y="581.57" width="145.1" height="4.93" fill="#e7664c"/><rect x="74.4" y="586.50" width="120.7" height="4.93" fill="#54b399"/><rect x="195.1" y="586.50" width="73.6" height="4.93" fill="#6092c0"/><rect x="268.7" y="586.50" width="150.4" height="4.93" fill="#9170b8"/><rect x="419.1" y="586.50" width="25.9" height="4.93" fill="#ca8eae"/><rect x="445.0" y="586.50" width="95.0" height="4.93" fill="#d36086"/><rect x="540.0" y="586.50" width="90.8" height="4.93" fill="#e7664c"/><rect x="74.4" y="591.43" width="86.1" height="4.93" fill="#54b399"/><rect x="160.5" y="591.43" width="98.7" height="4.93" fill="#6092c0"/><rect x="259.2" y="591.43" width="85.3" height="4.93" fill="#9170b8"/><rect x="344.5" y="591.43" width="86.0" height="4.93" fill="#ca8eae"/><rect x="430.5" y="591.43" width="105.0" height="4.93" fill="#d36086"/><rect x="535.5" y="591.43" width="95.3" height="4.93" fill="#e7664c"/><rect x="74.4" y="596.35" width="130.5" height="4.93" fill="#54b399"/><rect x="204.9" y="596.35" width="88.1" height="4.93" fill="#6092c0"/><rect x="293.0" y="596.35" width="99.2" height="4.93" fill="#9170b8"/><rect x="392.2" y="596.35" width="136.7" height="4.93" fill="#ca8eae"/><rect x="528.9" y="596.35" width="31.4" height="4.93" fill="#d36086"/><rect x="560.3" y="596.35" width="70.5" height="4.93" fill="#e7664c"/><rect x="74.4" y="601.28" width="104.1" height="4.93" fill="#54b399"/><rect x="178.5" y="601.28" width="166.0" height="4.93" fill="#6092c0"/><rect x="344.5" y="601.28" width="104.5" height="4.93" fill="#9170b8"/><rect x="449.0" y="601.28" width="44.0" height="4.93" fill="#d36086"/><rect x="493.0" y="601.28" width="137.8" height="4.93" fill="#e7664c"/><rect x="74.4" y="606.20" width="59.5" height="4.93" fill="#54b399"/><rect x="133.9" y="606.20" width="83.1" height="4.93" fill="#6092c0"/><rect x="217.0" y="606.20" width="132.8" height="4.93" fill="#9170b8"/><rect x="349.8" y="606.20" width="98.6" height="4.93" fill="#ca8eae"/><rect x="448.4" y="606.20" width="81.6" height="4.93" fill="#d36086"/><rect x="530.0" y="606.20" width="100.8" height="4.93" fill="#e7664c"/><rect x="74.4" y="611.13" width="96.9" height="4.93" fill="#54b399"/><rect x="171.3" y="611.13" width="107.7" height="4.93" fill="#6092c0"/><rect x="279.0" y="611.13" width="102.7" height="4.93" fill="#9170b8"/><rect x="381.7" y="611.13" width="164.1" height="4.93" fill="#d36086"/><rect x="545.8" y="611.13" width="85.0" height="4.93" fill="#e7664c"/><rect x="74.4" y="616.06" width="108.3" height="4.93" fill="#54b399"/><rect x="182.7" y="616.06" width="67.6" height="4.93" fill="#6092c0"/><rect x="250.3" y="616.06" width="83.6" height="4.93" fill="#9170b8"/><rect x="333.9" y="616.06" width="87.9" height="4.93" fill="#ca8eae"/><rect x="421.8" y="616.06" width="72.3" height="4.93" fill="#d36086"/><rect x="494.1" y="616.06" width="136.7" height="4.93" fill="#e7664c"/><rect x="74.4" y="620.98" width="102.5" height="4.93" fill="#54b399"/><rect x="176.9" y="620.98" width="41.2" height="4.93" fill="#6092c0"/><rect x="218.1" y="620.98" width="107.9" height="4.93" fill="#9170b8"/><rect x="326.0" y="620.98" width="82.3" height="4.93" fill="#ca8eae"/><rect x="408.3" y="620.98" width="125.9" height="4.93" fill="#d36086"/><rect x="534.2" y="620.98" width="96.6" height="4.93" fill="#e7664c"/><rect x="74.4" y="625.91" width="102.0" height="4.93" fill="#54b399"/><rect x="176.4" y="625.91" width="95.2" height="4.93" fill="#6092c0"/><rect x="271.6" y="625.91" width="67.1" height="4.93" fill="#9170b8"/><rect x="338.7" y="625.91" width="91.3" height="4.93" fill="#ca8eae"/><rect x="430.0" y="625.91" width="121.4" height="4.93" fill="#d36086"/><rect x="551.4" y="625.91" width="79.4" height="4.93" fill="#e7664c"/><rect x="74.4" y="630.83" width="119.6" height="4.93" fill="#54b399"/><rect x="194.0" y="630.83" width="102.4" height="4.93" fill="#6092c0"/><rect x="296.4" y="630.83" width="168.9" height="4.93" fill="#9170b8"/><rect x="465.3" y="630.83" width="107.7" height="4.93" fill="#d36086"/><rect x="573.0" y="630.83" width="57.8" height="4.93" fill="#e7664c"/><rect x="74.4" y="635.76" width="75.8" height="4.93" fill="#54b399"/><rect x="150.2" y="635.76" width="72.9" height="4.93" fill="#6092c0"/><rect x="223.1" y="635.76" width="79.7" height="4.93" fill="#9170b8"/><rect x="302.8" y="635.76" width="192.6" height="4.93" fill="#ca8eae"/><rect x="495.4" y="635.76" width="19.6" height="4.93" fill="#d36086"/><rect x="515.0" y="635.76" width="115.8" height="4.93" fill="#e7664c"/><rect x="74.4" y="640.69" width="133.9" height="4.93" fill="#54b399"/><rect x="208.3" y="640.69" width="114.5" height="4.93" fill="#6092c0"/><rect x="322.8" y="640.69" width="106.6" height="4.93" fill="#9170b8"/><rect x="429.4" y="640.69" width="85.8" height="4.93" fill="#d36086"/><rect x="515.2" y="640.69" width="115.6" height="4.93" fill="#e7664c"/><rect x="74.4" y="645.61" width="103.3" height="4.93" fill="#54b399"/><rect x="177.7" y="645.61" width="68.6" height="4.93" fill="#6092c0"/><rect x="246.3" y="645.61" width="89.7" height="4.93" fill="#9170b8"/><rect x="336.0" y="645.61" width="111.1" height="4.93" fill="#ca8eae"/><rect x="447.1" y="645.61" width="102.9" height="4.93" fill="#d36086"/><rect x="550.0" y="645.61" width="80.8" height="4.93" fill="#e7664c"/><rect x="74.4" y="650.54" width="148.7" height="4.93" fill="#54b399"/><rect x="223.1" y="650.54" width="132.7" height="4.93" fill="#6092c0"/><rect x="355.8" y="650.54" width="83.9" height="4.93" fill="#9170b8"/><rect x="439.7" y="650.54" width="93.7" height="4.93" fill="#d36086"/><rect x="533.4" y="650.54" width="97.4" height="4.93" fill="#e7664c"/><rect x="74.4" y="655.47" width="54.2" height="4.93" fill="#54b399"/><rect x="128.6" y="655.47" width="71.5" height="4.93" fill="#6092c0"/><rect x="200.1" y="655.47" width="139.6" height="4.93" fill="#9170b8"/><rect x="339.7" y="655.47" width="68.9" height="4.93" fill="#ca8eae"/><rect x="408.6" y="655.47" width="135.6" height="4.93" fill="#d36086"/><rect x="544.2" y="655.47" width="86.6" height="4.93" fill="#e7664c"/><rect x="74.4" y="660.39" width="93.3" height="4.93" fill="#54b399"/><rect x="167.7" y="660.39" width="106.3" height="4.93" fill="#6092c0"/><rect x="274.0" y="660.39" width="63.1" height="4.93" fill="#9170b8"/><rect x="337.1" y="660.39" width="120.6" height="4.93" fill="#ca8eae"/><rect x="457.7" y="660.39" width="55.1" height="4.93" fill="#d36086"/><rect x="512.8" y="660.39" width="118.0" height="4.93" fill="#e7664c"/><rect x="74.4" y="665.32" width="129.7" height="4.93" fill="#54b399"/><rect x="204.1" y="665.32" width="82.8" height="4.93" fill="#6092c0"/><rect x="286.9" y="665.32" width="90.0" height="4.93" fill="#9170b8"/><rect x="376.9" y="665.32" width="47.5" height="4.93" fill="#ca8eae"/><rect x="424.4" y="665.32" width="67.3" height="4.93" fill="#d36086"/><rect x="491.7" y="665.32" width="139.1" height="4.93" fill="#e7664c"/><rect x="74.4" y="670.24" width="93.3" height="4.93" fill="#54b399"/><rect x="167.7" y="670.24" width="79.4" height="4.93" fill="#6092c0"/><rect x="247.1" y="670.24" width="51.7" height="4.93" fill="#9170b8"/><rect x="298.8" y="670.24" width="168.1" height="4.93" fill="#ca8eae"/><rect x="466.9" y="670.24" width="46.5" height="4.93" fill="#d36086"/><rect x="513.4" y="670.24" width="117.4" height="4.93" fill="#e7664c"/><rect x="74.4" y="675.17" width="75.3" height="4.93" fill="#54b399"/><rect x="149.7" y="675.17" width="163.1" height="4.93" fill="#6092c0"/><rect x="312.8" y="675.17" width="69.1" height="4.93" fill="#9170b8"/><rect x="381.9" y="675.17" width="65.8" height="4.93" fill="#ca8eae"/><rect x="447.7" y="675.17" width="107.9" height="4.93" fill="#d36086"/><rect x="555.6" y="675.17" width="75.2" height="4.93" fill="#e7664c"/><rect x="74.4" y="680.10" width="107.0" height="4.93" fill="#54b399"/><rect x="181.4" y="680.10" width="86.5" height="4.93" fill="#6092c0"/><rect x="267.9" y="680.10" width="139.9" height="4.93" fill="#9170b8"/><rect x="407.8" y="680.10" width="118.0" height="4.93" fill="#d36086"/><rect x="525.8" y="680.10" width="105.0" height="4.93" fill="#e7664c"/><rect x="74.4" y="685.02" width="80.6" height="4.93" fill="#54b399"/><rect x="155.0" y="685.02" width="85.2" height="4.93" fill="#6092c0"/><rect x="240.2" y="685.02" width="165.0" height="4.93" fill="#9170b8"/><rect x="405.2" y="685.02" width="115.6" height="4.93" fill="#d36086"/><rect x="520.8" y="685.02" width="110.0" height="4.93" fill="#e7664c"/><rect x="74.4" y="689.95" width="83.2" height="4.93" fill="#54b399"/><rect x="157.6" y="689.95" width="104.8" height="4.93" fill="#6092c0"/><rect x="262.4" y="689.95" width="149.6" height="4.93" fill="#9170b8"/><rect x="412.0" y="689.95" width="136.5" height="4.93" fill="#d36086"/><rect x="548.5" y="689.95" width="82.3" height="4.93" fill="#e7664c"/><rect x="74.4" y="694.87" width="89.6" height="4.93" fill="#54b399"/><rect x="164.0" y="694.87" width="144.0" height="4.93" fill="#6092c0"/><rect x="308.0" y="694.87" width="123.0" height="4.93" fill="#9170b8"/><rect x="431.0" y="694.87" width="98.2" height="4.93" fill="#d36086"/><rect x="529.2" y="694.87" width="101.6" height="4.93" fill="#e7664c"/></svg><svg width="1080" height="741" viewBox="0 0 1080 741"><rect x="74.4" y="477.73" width="556.4" height="0.8" fill="#fff" opacity="0.32"/><rect x="74.4" y="482.65" width="556.4" height="0.8" fill="#fff" opacity="0.32"/><rect x="74.4" y="487.58" width="556.4" height="0.8" fill="#fff" opacity="0.32"/><rect x="74.4" y="492.50" width="556.4" height="0.8" fill="#fff" opacity="0.32"/><rect x="74.4" y="497.43" width="556.4" height="0.8" fill="#fff" opacity="0.32"/><rect x="74.4" y="502.36" width="556.4" height="0.8" fill="#fff" opacity="0.32"/><rect x="74.4" y="507.28" width="556.4" height="0.8" fill="#fff" opacity="0.32"/><rect x="74.4" y="512.21" width="556.4" height="0.8" fill="#fff" opacity="0.32"/><rect x="74.4" y="517.13" width="556.4" height="0.8" fill="#fff" opacity="0.32"/><rect x="74.4" y="522.06" width="556.4" height="0.8" fill="#fff" opacity="0.32"/><rect x="74.4" y="526.99" width="556.4" height="0.8" fill="#fff" opacity="0.32"/><rect x="74.4" y="531.91" width="556.4" height="0.8" fill="#fff" opacity="0.32"/><rect x="74.4" y="536.84" width="556.4" height="0.8" fill="#fff" opacity="0.32"/><rect x="74.4" y="541.77" width="556.4" height="0.8" fill="#fff" opacity="0.32"/><rect x="74.4" y="546.69" width="556.4" height="0.8" fill="#fff" opacity="0.32"/><rect x="74.4" y="551.62" width="556.4" height="0.8" fill="#fff" opacity="0.32"/><rect x="74.4" y="556.54" width="556.4" height="0.8" fill="#fff" opacity="0.32"/><rect x="74.4" y="561.47" width="556.4" height="0.8" fill="#fff" opacity="0.32"/><rect x="74.4" y="566.40" width="556.4" height="0.8" fill="#fff" opacity="0.32"/><rect x="74.4" y="571.32" width="556.4" height="0.8" fill="#fff" opacity="0.32"/><rect x="74.4" y="576.25" width="556.4" height="0.8" fill="#fff" opacity="0.32"/><rect x="74.4" y="581.17" width="556.4" height="0.8" fill="#fff" opacity="0.32"/><rect x="74.4" y="586.10" width="556.4" height="0.8" fill="#fff" opacity="0.32"/><rect x="74.4" y="591.03" width="556.4" height="0.8" fill="#fff" opacity="0.32"/><rect x="74.4" y="595.95" width="556.4" height="0.8" fill="#fff" opacity="0.32"/><rect x="74.4" y="600.88" width="556.4" height="0.8" fill="#fff" opacity="0.32"/><rect x="74.4" y="605.80" width="556.4" height="0.8" fill="#fff" opacity="0.32"/><rect x="74.4" y="610.73" width="556.4" height="0.8" fill="#fff" opacity="0.32"/><rect x="74.4" y="615.66" width="556.4" height="0.8" fill="#fff" opacity="0.32"/><rect x="74.4" y="620.58" width="556.4" height="0.8" fill="#fff" opacity="0.32"/><rect x="74.4" y="625.51" width="556.4" height="0.8" fill="#fff" opacity="0.32"/><rect x="74.4" y="630.43" width="556.4" height="0.8" fill="#fff" opacity="0.32"/><rect x="74.4" y="635.36" width="556.4" height="0.8" fill="#fff" opacity="0.32"/><rect x="74.4" y="640.29" width="556.4" height="0.8" fill="#fff" opacity="0.32"/><rect x="74.4" y="645.21" width="556.4" height="0.8" fill="#fff" opacity="0.32"/><rect x="74.4" y="650.14" width="556.4" height="0.8" fill="#fff" opacity="0.32"/><rect x="74.4" y="655.07" width="556.4" height="0.8" fill="#fff" opacity="0.32"/><rect x="74.4" y="659.99" width="556.4" height="0.8" fill="#fff" opacity="0.32"/><rect x="74.4" y="664.92" width="556.4" height="0.8" fill="#fff" opacity="0.32"/><rect x="74.4" y="669.84" width="556.4" height="0.8" fill="#fff" opacity="0.32"/><rect x="74.4" y="674.77" width="556.4" height="0.8" fill="#fff" opacity="0.32"/><rect x="74.4" y="679.70" width="556.4" height="0.8" fill="#fff" opacity="0.32"/><rect x="74.4" y="684.62" width="556.4" height="0.8" fill="#fff" opacity="0.32"/><rect x="74.4" y="689.55" width="556.4" height="0.8" fill="#fff" opacity="0.32"/><rect x="74.4" y="694.47" width="556.4" height="0.8" fill="#fff" opacity="0.32"/></svg><svg width="1080" height="741" viewBox="0 0 1080 741"><text x="47.00" y="505.35" font-size="4.6" fill="#5a6070" textLength="23.30" lengthAdjust="spacing" >2020-05-31</text></svg><svg width="1080" height="741" viewBox="0 0 1080 741"><text x="47.00" y="539.85" font-size="4.6" fill="#5a6070" textLength="23.30" lengthAdjust="spacing" >2020-06-07</text></svg><svg width="1080" height="741" viewBox="0 0 1080 741"><text x="47.00" y="574.35" font-size="4.6" fill="#5a6070" textLength="23.30" lengthAdjust="spacing" >2020-06-14</text></svg><svg width="1080" height="741" viewBox="0 0 1080 741"><text x="47.00" y="608.85" font-size="4.6" fill="#5a6070" textLength="23.30" lengthAdjust="spacing" >2020-06-21</text></svg><svg width="1080" height="741" viewBox="0 0 1080 741"><text x="47.00" y="643.35" font-size="4.6" fill="#5a6070" textLength="23.30" lengthAdjust="spacing" >2020-06-28</text></svg><svg width="1080" height="741" viewBox="0 0 1080 741"><text x="47.00" y="677.85" font-size="4.6" fill="#5a6070" textLength="23.30" lengthAdjust="spacing" >2020-07-05</text></svg><svg width="1080" height="741" viewBox="0 0 1080 741"><text x="70.78" y="709.95" font-size="4.6" fill="#5a6070" >0%</text></svg><svg width="1080" height="741" viewBox="0 0 1080 741"><text x="125.14" y="709.95" font-size="4.6" fill="#5a6070" >10%</text></svg><svg width="1080" height="741" viewBox="0 0 1080 741"><text x="180.78" y="709.95" font-size="4.6" fill="#5a6070" >20%</text></svg><svg width="1080" height="741" viewBox="0 0 1080 741"><text x="236.42" y="709.95" font-size="4.6" fill="#5a6070" >30%</text></svg><svg width="1080" height="741" viewBox="0 0 1080 741"><text x="292.06" y="709.95" font-size="4.6" fill="#5a6070" >40%</text></svg><svg width="1080" height="741" viewBox="0 0 1080 741"><text x="347.70" y="709.95" font-size="4.6" fill="#5a6070" >50%</text></svg><svg width="1080" height="741" viewBox="0 0 1080 741"><text x="403.34" y="709.95" font-size="4.6" fill="#5a6070" >60%</text></svg><svg width="1080" height="741" viewBox="0 0 1080 741"><text x="458.98" y="709.95" font-size="4.6" fill="#5a6070" >70%</text></svg><svg width="1080" height="741" viewBox="0 0 1080 741"><text x="514.62" y="709.95" font-size="4.6" fill="#5a6070" >80%</text></svg><svg width="1080" height="741" viewBox="0 0 1080 741"><text x="570.26" y="709.95" font-size="4.6" fill="#5a6070" >90%</text></svg><svg width="1080" height="741" viewBox="0 0 1080 741"><text x="624.62" y="709.95" font-size="4.6" fill="#5a6070" >100%</text></svg></div>
</div></body></html>
